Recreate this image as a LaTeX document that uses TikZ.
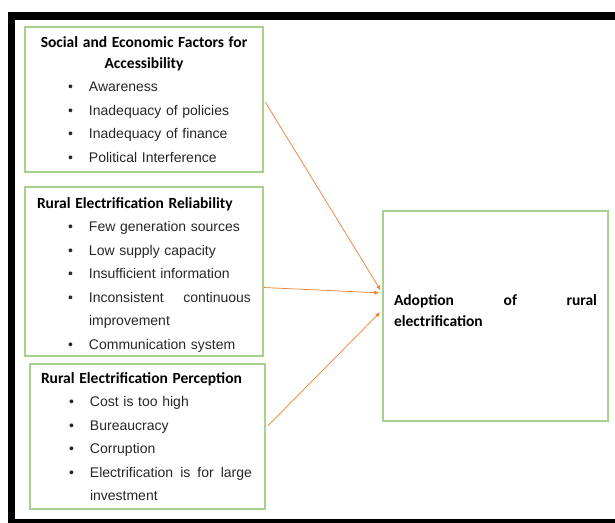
\documentclass[tikz,border=0pt]{standalone}
\usepackage{fontspec}
\setmainfont{Liberation Sans}
\newfontfamily\headfont{Carlito}
\usetikzlibrary{arrows.meta}
\definecolor{boxgreen}{HTML}{A9D18E}
\definecolor{linkorange}{HTML}{ED7D31}
\newcommand{\heading}[1]{{\color{black}\headfont\bfseries\fontsize{15.5}{21}\selectfont #1}}
\newcommand{\bitem}[2][31pt]{\\\hspace*{#1}\makebox[21pt][l]{\textbullet}#2}
\begin{document}
\begin{tikzpicture}[x=1pt,y=-1pt]
	\tikzset{factor/.style = {draw=boxgreen, line width=1.4pt, align=left, inner sep=0pt,
		text=black!85, font=\fontsize{14}{23.5}\selectfont}}
	\tikzset{link/.style = {-{Latex[length=5pt,width=4pt]}, draw=linkorange, line width=0.7pt, shorten >=3pt}}
	\useasboundingbox (0,0) rectangle (615,522);
	\clip (0,0) rectangle (615,522);
	% frame
	\draw[line width=7.5pt] (11.5,540) -- (11.5,16) -- (640,16);
	\draw[line width=7pt] (11.5,522.5) -- (640,522.5);
	% boxes
	\node[factor, minimum width=238pt, minimum height=145pt, text width=214pt] (social) at (144,99.5) {%
		\makebox[214pt]{\heading{Social and Economic Factors for}}\\[-2.5pt]
		\makebox[214pt]{\heading{Accessibility}}
		\bitem{Awareness}
		\bitem{Inadequacy of policies}
		\bitem{Inadequacy of finance}
		\bitem{Political Interference}};
	\node[factor, minimum width=238pt, minimum height=169pt, text width=214pt] (reliab) at (144,271.5) {%
		\rule{0pt}{17pt}\heading{Rural Electrification Reliability}
		\bitem{Few generation sources}
		\bitem{Low supply capacity}
		\bitem{Insufficient information}
		\bitem{\makebox[162pt][l]{Inconsistent\hfill continuous}}\\
		\hspace*{52pt}improvement
		\bitem{Communication system}};
	\node[factor, minimum width=235pt, minimum height=145pt, text width=213pt] (percep) at (147.5,436.5) {%
		\heading{Rural Electrification Perception}
		\bitem[28pt]{Cost is too high}
		\bitem[28pt]{Bureaucracy}
		\bitem[28pt]{Corruption}
		\bitem[28pt]{\makebox[162pt][l]{Electrification\hfill is\hfill for\hfill large}}\\
		\hspace*{49pt}investment};
	\node[factor, minimum width=225pt, minimum height=210pt, text width=203pt] (adopt) at (495.5,316) {%
		\heading{\makebox[203pt][l]{Adoption\hfill of\hfill rural}}\\[-2.5pt]
		\heading{electrification}\\[-13.5pt]\mbox{}};
	% links
	\draw[link, shorten <=3pt] (social.east) -- ([yshift=23pt]adopt.west);
	\draw[link] ([yshift=-16pt]reliab.east) -- ([yshift=23pt]adopt.west);
	\draw[link, shorten <=3pt] ([yshift=8.5pt]percep.east) -- ([yshift=6pt]adopt.west);
\end{tikzpicture}
\end{document}
